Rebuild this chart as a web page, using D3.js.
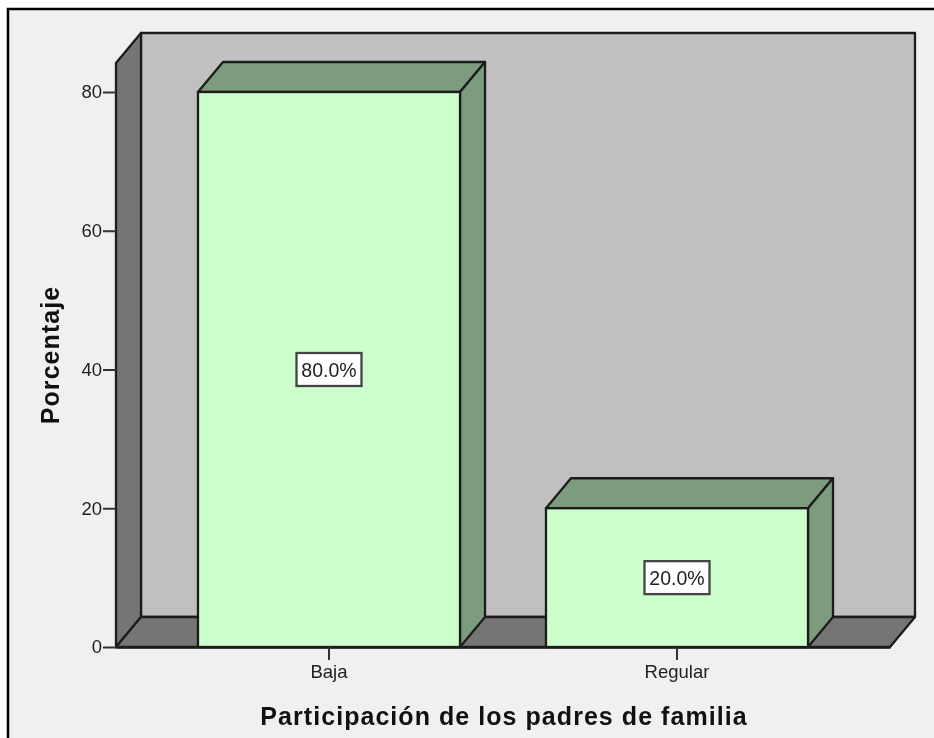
<!DOCTYPE html>
<html>
<head>
<meta charset="utf-8">
<script src="https://cdn.jsdelivr.net/npm/d3@7"></script>
<style>
  html, body { margin: 0; padding: 0; background: #fff; overflow: hidden; }
  svg { display: block; filter: blur(0.45px); }
</style>
</head>
<body>
<div id="chart"></div>
<script>
var categories = ["Baja", "Regular"]
var percentages = [80, 20]
var percentLabels = ["80.0%", "20.0%"]
var yTicks = [0, 20, 40, 60, 80]
var xTitle = "Participación de los padres de familia"
var yTitle = "Porcentaje"

var W = 934, H = 738
var margin = {left: 116, right: 44, top: 92, bottom: 91}
var depth = {x: 25, y: 30}
var lineColor = "#1c1c1c"
var fontFamily = "Liberation Sans, Arial, sans-serif"

var svg = d3.select("#chart").append("svg")
    .attr("width", W)
    .attr("height", H)
    .attr("viewBox", "0 0 " + W + " " + H)

// outer panel, only top and left edges are visible in the cropped screenshot
svg.append("rect")
    .attr("x", 8).attr("y", 9)
    .attr("width", W + 20).attr("height", H + 20)
    .attr("fill", "#f0f0f0")
    .attr("stroke", "#000")
    .attr("stroke-width", 2.5)

var yScale = d3.scaleLinear()
    .domain([0, 80])
    .range([H - margin.bottom, margin.top])

var xScale = d3.scaleBand()
    .domain(categories)
    .range([margin.left, W - margin.right])
    .paddingInner(0.247)
    .paddingOuter(0.2356)

var x0 = margin.left, x1 = W - margin.right
var yBase = yScale(0), yTop = 33

function poly(points, fill) {
  svg.append("path")
    .attr("d", "M" + points.map(function(p){ return p.join(","); }).join("L") + "Z")
    .attr("fill", fill)
    .attr("stroke", lineColor)
    .attr("stroke-width", 2.3)
    .attr("stroke-linejoin", "round")
}

// 3d box: back wall, side wall, floor
poly([[x0 + depth.x, yTop], [x1 + depth.x, yTop], [x1 + depth.x, yBase - depth.y], [x0 + depth.x, yBase - depth.y]], "#c0c0c0")
poly([[x0, yTop + depth.y], [x0 + depth.x, yTop], [x0 + depth.x, yBase - depth.y], [x0, yBase]], "#757575")
poly([[x0, yBase], [x0 + depth.x, yBase - depth.y], [x1 + depth.x, yBase - depth.y], [x1, yBase]], "#757575")

// bars
categories.forEach(function(c, i) {
  var bx = xScale(c), bw = xScale.bandwidth(), by = yScale(percentages[i])
  poly([[bx, by], [bx + depth.x, by - depth.y], [bx + bw + depth.x, by - depth.y], [bx + bw, by]], "#7d9c7d")
  poly([[bx + bw, by], [bx + bw + depth.x, by - depth.y], [bx + bw + depth.x, yBase - depth.y], [bx + bw, yBase]], "#7d9c7d")
  svg.append("rect")
    .attr("x", bx).attr("y", by)
    .attr("width", bw).attr("height", yBase - by)
    .attr("fill", "#ccffcc")
    .attr("stroke", lineColor)
    .attr("stroke-width", 2.3)
})

// axes
var yAxis = svg.append("g")
    .attr("transform", "translate(" + x0 + ",0)")
    .call(d3.axisLeft(yScale).tickValues(yTicks).tickSize(13).tickPadding(1).tickFormat(d3.format("d")))
var xAxis = svg.append("g")
    .attr("transform", "translate(0," + yBase + ")")
    .call(d3.axisBottom(xScale).tickSize(13).tickSizeOuter(0).tickPadding(5))

yAxis.select(".domain").remove()
xAxis.select(".domain").attr("stroke", lineColor).attr("stroke-width", 2.3)
svg.selectAll(".tick line").attr("stroke", "#333").attr("stroke-width", 2)
svg.selectAll(".tick text")
    .attr("fill", "#222")
    .style("font-family", fontFamily)
    .style("font-size", "18.5px")

// value labels
categories.forEach(function(c, i) {
  var cx = xScale(c) + xScale.bandwidth() / 2
  var cy = yScale(percentages[i] / 2)
  svg.append("rect")
    .attr("x", cx - 32.5).attr("y", cy - 16.5)
    .attr("width", 65).attr("height", 33)
    .attr("fill", "#fff")
    .attr("stroke", "#444")
    .attr("stroke-width", 2.3)
  svg.append("text")
    .attr("x", cx).attr("y", cy + 7)
    .attr("text-anchor", "middle")
    .attr("fill", "#222")
    .style("font-family", fontFamily)
    .style("font-size", "19.5px")
    .text(percentLabels[i])
})

// titles
svg.append("text")
    .attr("x", 504).attr("y", 725)
    .attr("text-anchor", "middle")
    .attr("fill", "#111")
    .style("font-family", fontFamily)
    .style("font-size", "25px")
    .style("font-weight", "bold")
    .style("letter-spacing", "1.05px")
    .text(xTitle)

svg.append("text")
    .attr("transform", "translate(59,355) rotate(-90)")
    .attr("text-anchor", "middle")
    .attr("fill", "#111")
    .style("font-family", fontFamily)
    .style("font-size", "25px")
    .style("font-weight", "bold")
    .style("letter-spacing", "1.05px")
    .text(yTitle)
</script>
</body>
</html>
